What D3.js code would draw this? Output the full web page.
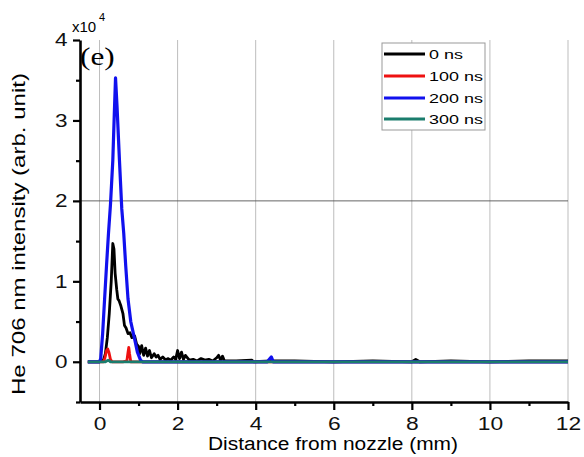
<!DOCTYPE html>
<html>
<head>
<meta charset="utf-8">
<script src="https://cdn.jsdelivr.net/npm/d3@7"></script>
<style>
  body { margin: 0; background: #fff; }
  svg { font-family: "Liberation Sans", Arial, sans-serif; }
</style>
</head>
<body>
<div id="chart"></div>
<script>
// data (intensity in arb. units, distance in mm)
var series = ["0 ns", "100 ns", "200 ns", "300 ns"];
var colors = ["#000000", "#ee1111", "#1111ee", "#1a7d6d"];

var x0 = [-0.3,0,0.1,0.15,0.2,0.25,0.3,0.34,0.37,0.4,0.44,0.47,0.5,0.55,0.6,0.64,0.68,0.73,0.78,0.83,0.9,0.95,1.0,1.03,1.08,1.13,1.18,1.23,1.28,1.33,1.4,1.45,1.5,1.55,1.62,1.7,1.75,1.82,1.9,1.95,2.0,2.05,2.1,2.15,2.2,2.3,2.4,2.5,2.6,2.7,2.8,2.9,3.0,3.05,3.1,3.15,3.2,3.5,3.9,3.95,4.4,5,6,7,8,8.1,8.2,9,10,11,12];
var y0 = [0,0,200,1000,3000,6000,10000,14700,14000,11000,9000,7800,7600,6900,6000,4500,4200,3500,3600,3000,3200,2200,1900,1000,2000,800,1700,700,1400,500,1000,600,800,300,600,200,400,200,600,300,1400,400,1200,300,800,200,300,100,400,200,300,100,500,800,200,700,100,100,200,0,100,100,0,100,0,300,0,100,0,100,100];

var x100 = [-0.3,0.1,0.14,0.18,0.21,0.24,0.28,0.32,0.6,0.7,0.73,0.75,0.77,0.8,1.0,12];
var y100 = [0,0,500,1400,1600,1200,300,0,0,100,1200,1800,1000,0,0,0];

var x200 = [-0.3,0,0.03,0.08,0.13,0.18,0.23,0.28,0.34,0.38,0.41,0.45,0.51,0.57,0.62,0.67,0.73,0.8,0.9,0.97,1.05,1.1,4.3,4.35,4.4,4.45,12];
var y200 = [0,0,400,3500,7800,12000,16000,19500,25000,31000,35300,31600,25100,19000,16000,12000,7800,5000,2800,1200,200,0,0,300,600,0,0];

var x300 = [-0.3,0.15,0.22,0.28,12];
var y300 = [0,0,200,0,0];

var xTicks = [0,2,4,6,8,10,12];
var xMinor = [1,3,5,7,9,11];
var yTicks = [0,10000,20000,30000,40000];
var yMinor = [-5000,5000,15000,25000,35000];

var width = 584, height = 457;

var svg = d3.select("#chart").append("svg")
    .attr("width", width)
    .attr("height", height);

var x = d3.scaleLinear().domain([-0.5, 12]).range([80, 568]);
var y = d3.scaleLinear().domain([-5000, 40000]).range([402, 40]);

// grid
svg.append("g").selectAll("line")
    .data(xTicks).enter().append("line")
    .attr("x1", function (d) { return x(d); })
    .attr("x2", function (d) { return x(d); })
    .attr("y1", y(40000)).attr("y2", y(-5000))
    .attr("stroke", "#bdbdbd").attr("stroke-width", 1);

svg.append("line")
    .attr("x1", x(-0.5)).attr("x2", x(12))
    .attr("y1", y(20000)).attr("y2", y(20000))
    .attr("stroke", "#555").attr("stroke-width", 0.9);

// lines
var xs = [x0, x100, x200, x300];
var ys = [y0, y100, y200, y300];
var line = d3.line()
    .x(function (d) { return x(d[0]); })
    .y(function (d) { return y(d[1]); });

xs.forEach(function (xa, i) {
    var pts = xa.map(function (v, j) { return [v, ys[i][j]]; });
    svg.append("path")
        .datum(pts)
        .attr("d", line)
        .attr("fill", "none")
        .attr("stroke", colors[i])
        .attr("stroke-width", i == 2 ? 3.2 : 2.8)
        .attr("stroke-linejoin", "round");
});

// axes
var xAxis = svg.append("g")
    .attr("transform", "translate(0," + y(-5000) + ")")
    .call(d3.axisBottom(x).tickValues(xTicks).tickSize(8).tickSizeOuter(0).tickPadding(7));
xAxis.selectAll("text")
    .style("font-family", "'Liberation Sans', Arial, sans-serif")
    .style("font-size", "19px")
    .attr("fill", "#111")
    .attr("transform", "scale(1.2,1)");
svg.append("g")
    .attr("transform", "translate(0," + y(-5000) + ")")
    .call(d3.axisBottom(x).tickValues(xMinor).tickSize(4).tickFormat(""))
    .select(".domain").remove();

var yAxis = svg.append("g")
    .attr("transform", "translate(" + x(-0.5) + ",0)")
    .call(d3.axisLeft(y).tickValues(yTicks).tickSize(7).tickSizeOuter(0).tickPadding(3)
        .tickFormat(function (d) { return d / 10000; }));
yAxis.selectAll("text")
    .style("font-family", "'Liberation Sans', Arial, sans-serif")
    .style("font-size", "18px")
    .attr("fill", "#111")
    .attr("transform", "scale(1.25,1)");
svg.append("g")
    .attr("transform", "translate(" + x(-0.5) + ",0)")
    .call(d3.axisLeft(y).tickValues(yMinor).tickSize(4).tickFormat(""))
    .select(".domain").remove();

svg.selectAll(".domain").attr("stroke-width", 2.6);
svg.selectAll(".tick line").attr("stroke-width", 2.2);

// scale factor
svg.append("text").attr("x", 72).attr("y", 32).style("font-size", "15px").text("x10");
svg.append("text").attr("x", 99).attr("y", 21).style("font-size", "11px").text("4");

// panel label
svg.append("text")
    .attr("transform", "translate(80,65) scale(1.25,1)")
    .style("font-family", "'Liberation Serif', 'Times New Roman', serif")
    .style("font-size", "25px")
    .text("(e)");

// axis titles
svg.append("text")
    .attr("x", 333).attr("y", 450)
    .attr("text-anchor", "middle")
    .style("font-size", "18px")
    .attr("textLength", 250)
    .attr("lengthAdjust", "spacingAndGlyphs")
    .text("Distance from nozzle (mm)");

svg.append("text")
    .attr("transform", "translate(25,234) rotate(-90)")
    .attr("text-anchor", "middle")
    .style("font-size", "18px")
    .attr("textLength", 322)
    .attr("lengthAdjust", "spacingAndGlyphs")
    .text("He 706 nm intensity (arb. unit)");

// legend
var legend = svg.append("g");
legend.append("rect")
    .attr("x", 382).attr("y", 43).attr("width", 103).attr("height", 87)
    .attr("fill", "#fff").attr("stroke", "#999").attr("stroke-width", 1);
var ly = [54, 76, 98, 119];
series.forEach(function (s, i) {
    legend.append("line")
        .attr("x1", 384).attr("x2", 425)
        .attr("y1", ly[i]).attr("y2", ly[i])
        .attr("stroke", colors[i]).attr("stroke-width", 3);
    legend.append("text")
        .attr("transform", "translate(429," + (ly[i] + 5) + ") scale(1.33,1)")
        .style("font-size", "13.5px")
        .text(s);
});
</script>
</body>
</html>
